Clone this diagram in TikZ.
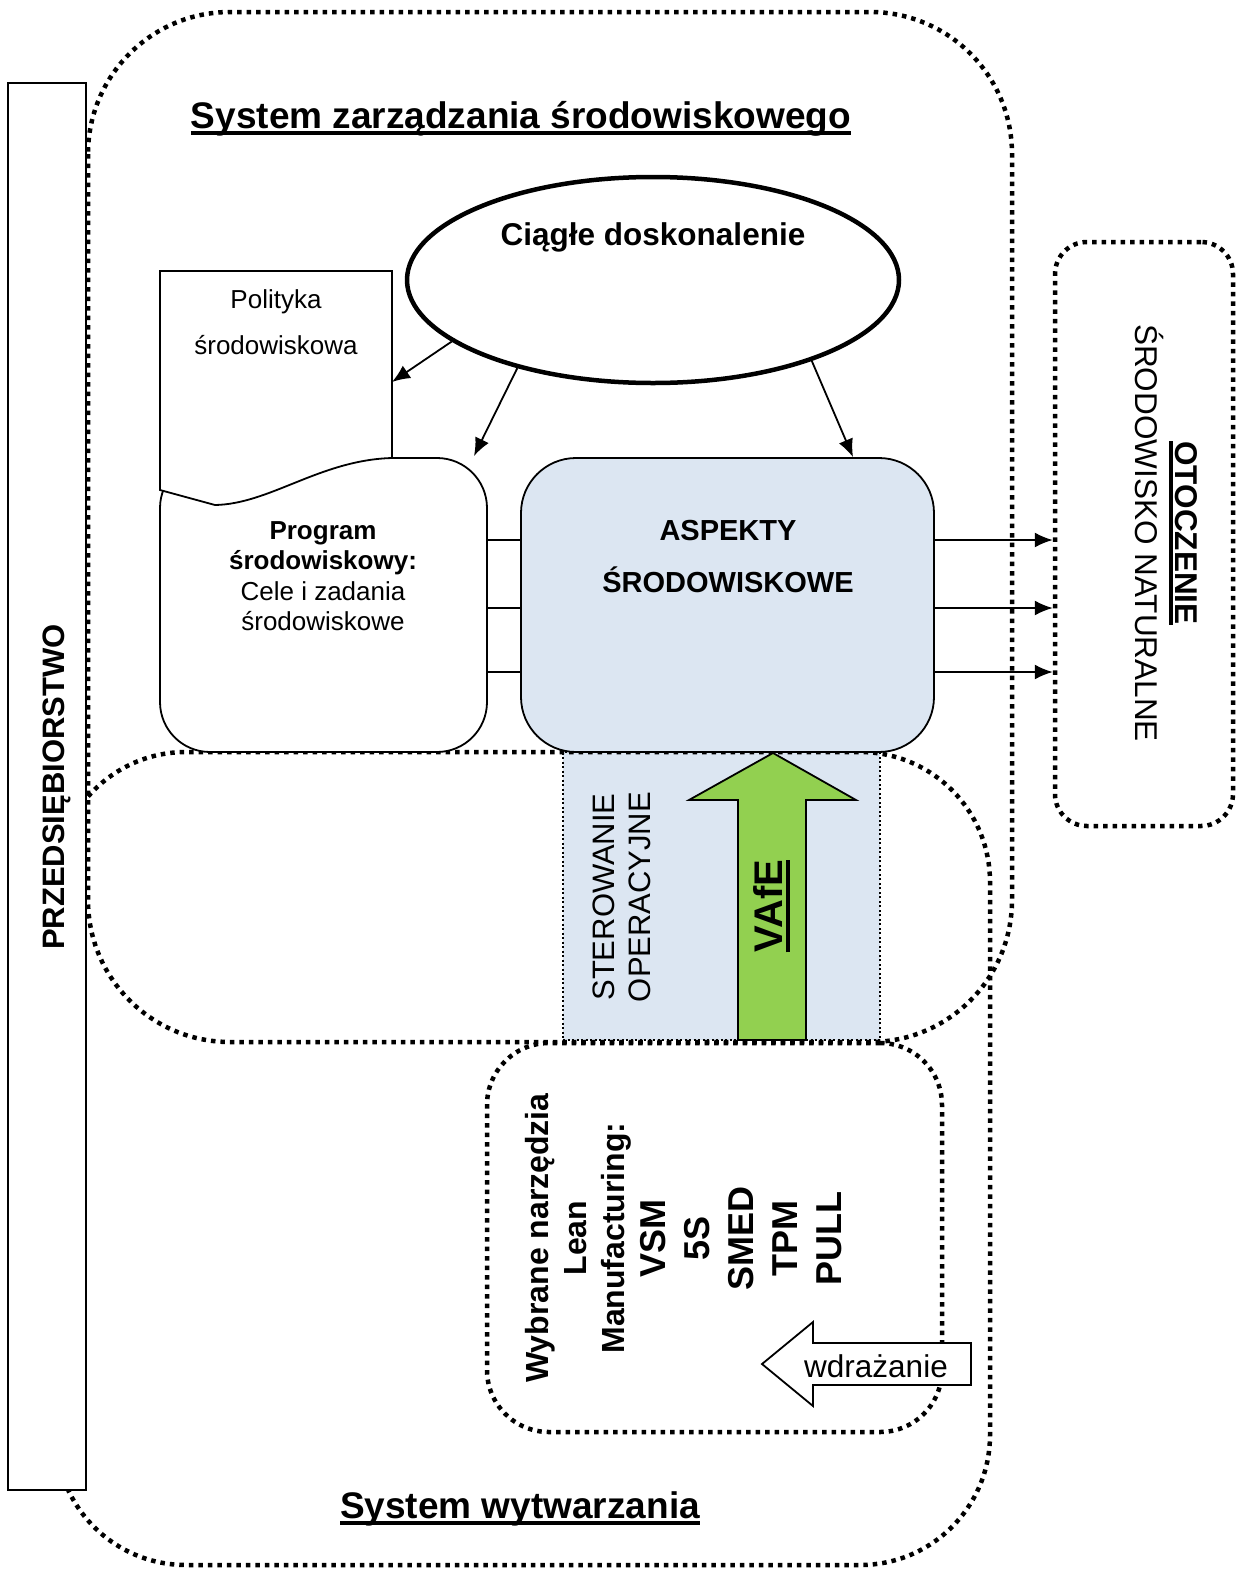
\documentclass[tikz,border=0pt]{standalone}
\usepackage{fontspec}
\setmainfont{Liberation Sans}
\usetikzlibrary{arrows.meta,shapes.geometric}
\definecolor{paleblue}{RGB}{220,230,242}
\definecolor{vafegreen}{RGB}{146,208,80}
% underline drawn at a fixed depth below the baseline
\newcommand{\ulin}[1]{\leavevmode\setbox0=\hbox{#1}\rlap{\rule[-0.19em]{\wd0}{0.12em}}\box0}
% larger type for the tool names
\newcommand{\leanbig}[1]{{\fontsize{36}{44}\selectfont #1}}
\begin{document}
\begin{tikzpicture}[x=1pt,y=-1pt,
  bigdots/.style={line width=4.5pt, dash pattern=on 4.5pt off 5pt},
  finedots/.style={line width=2pt, dash pattern=on 2pt off 2.5pt},
  solidline/.style={line width=1.8pt},
  arr/.style={line width=1.8pt, -{Latex[length=18pt,width=15pt]}},
  txt/.style={inner sep=0pt, align=center},
]
\useasboundingbox (0,0) rectangle (1245,1569);

% operational control band
\node[fill=paleblue, draw, finedots, inner sep=0pt, minimum width=317pt, minimum height=288pt] (ster) at (721.5,896) {};

% the two overlapping systems
\draw[bigdots, rounded corners=142pt] (88,12) rectangle (1012,1042);
\draw[bigdots, rounded corners=130pt] (56,752) rectangle (990,1565);

% enterprise bar
\node[draw, line width=2.2pt, fill=white, inner sep=0pt, minimum width=78pt, minimum height=1407pt] (prz) at (47,786.5) {};
\node[txt, rotate=90, font=\fontsize{31}{36}\selectfont\bfseries] (przt) at (57,787) {PRZEDSIĘBIORSTWO};

% titles
\node[anchor=base, inner sep=0pt, font=\fontsize{37}{44}\selectfont\bfseries] (t1) at (521,128) {\ulin{System zarządzania środowiskowego}};
\node[anchor=base, inner sep=0pt, font=\fontsize{37}{44}\selectfont\bfseries] (t2) at (520,1518) {\ulin{System wytwarzania}};

% environmental programme and policy
\node[draw, solidline, fill=white, rounded corners=50pt, inner sep=0pt, minimum width=327pt, minimum height=294pt] (prog) at (323.5,605) {};
\draw[solidline, fill=white] (160,490) -- (160,271) -- (392,271) -- (392,458)
   .. controls (320,460) and (270,504) .. (215,505) -- cycle;
\node[txt, font=\fontsize{26}{46}\selectfont] (polt) at (276,322) {Polityka\\środowiskowa};
\node[txt, font=\fontsize{26}{30.5}\selectfont] (progt) at (323,576) {\textbf{Program}\\\textbf{środowiskowy:}\\Cele i zadania\\środowiskowe};
\coordinate (polE) at (392,382);
\coordinate (progNE) at (474,456);

% environmental aspects
\node[draw, solidline, fill=paleblue, rounded corners=55pt, inner sep=0pt, minimum width=413pt, minimum height=294pt] (asp) at (727.5,605) {};
\node[txt, font=\fontsize{29}{52}\selectfont\bfseries] (aspt) at (728,557) {ASPEKTY\\ŚRODOWISKOWE};

% continual improvement
\node[draw, ellipse, line width=4.5pt, fill=white, inner sep=0pt, minimum width=492pt, minimum height=206pt] (cd) at (653,280) {};
\node[txt, font=\fontsize{31.5}{36}\selectfont\bfseries] (cdt) at (653,237) {Ciągłe doskonalenie};

\draw[arr] (cd.197) -- (polE);
\draw[arr] (cd.213) -- (progNE);
\draw[arr] (cd.333) -- (853,0 |- asp.north);

% surroundings
\node[draw, bigdots, rounded corners=32pt, inner sep=0pt, minimum width=178pt, minimum height=584pt] (oto) at (1144,534) {};
\node[txt, rotate=-90, font=\fontsize{31.5}{40}\selectfont] (otot) at (1166,533) {\textbf{\ulin{OTOCZENIE}}\\ŚRODOWISKO NATURALNE};

\foreach \yy in {540,608,672} {
  \draw[solidline] (prog.east |- 0,\yy) -- (asp.west |- 0,\yy);
  \draw[arr] (asp.east |- 0,\yy) -- (oto.west |- 0,\yy);
}

% operational control and the VAfE arrow
\node[txt, rotate=90, font=\fontsize{31}{36}\selectfont] (stert) at (622,897) {STEROWANIE\\OPERACYJNE};
\draw[solidline, fill=vafegreen] (738,1040) -- (738,800) -- (689,800) -- (773,753) -- (856,800) -- (806,800) -- (806,1040) -- cycle;
\node[txt, rotate=90, font=\fontsize{40}{44}\selectfont\bfseries] (vafe) at (772,906) {\ulin{VAfE}};

% lean manufacturing tools
\node[draw, bigdots, rounded corners=62pt, inner sep=0pt, minimum width=455pt, minimum height=389pt] (lean) at (714.5,1237.5) {};
\node[txt, rotate=90, font=\fontsize{32}{38}\selectfont\bfseries] (leant) at (684,1238)
  {Wybrane narzędzia\\Lean\\Manufacturing:\\[3pt]\leanbig{VSM}\\[6pt]\leanbig{5S}\\[6pt]\leanbig{SMED}\\[6pt]\leanbig{TPM}\\[6pt]\leanbig{PULL}};

% implementation arrow
\draw[solidline, fill=white] (762,1364) -- (813,1322) -- (813,1343) -- (971,1343) -- (971,1385) -- (813,1385) -- (813,1406) -- cycle;
\node[txt, font=\fontsize{31.5}{36}\selectfont] (wdr) at (876,1366) {wdrażanie};
\end{tikzpicture}
\end{document}
